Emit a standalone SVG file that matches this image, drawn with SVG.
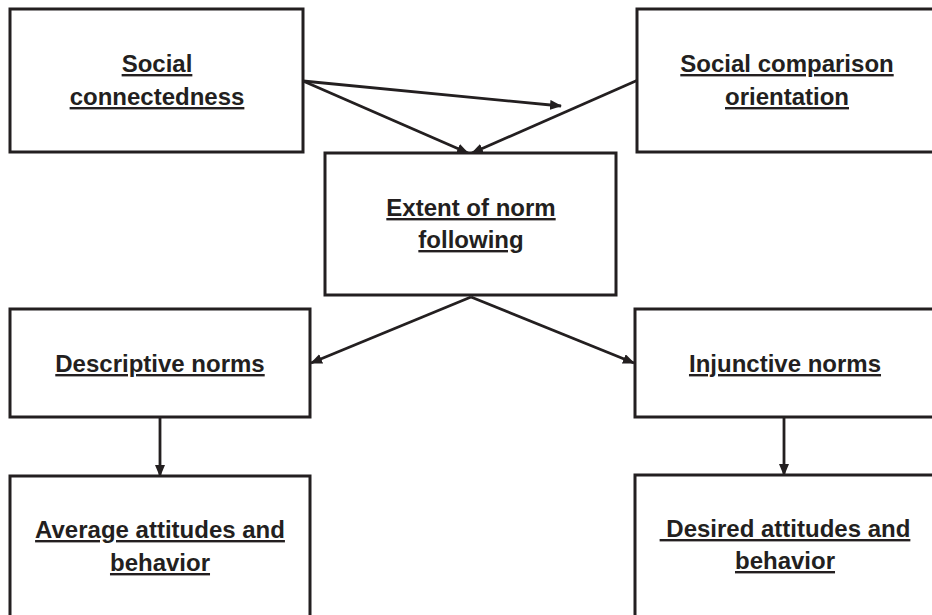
<svg xmlns="http://www.w3.org/2000/svg" width="932" height="615" viewBox="0 0 932 615">
<style>
.box{fill:#fff;stroke:#231f20;stroke-width:3}
.lbl{font-family:"Liberation Sans",Arial,sans-serif;font-weight:bold;font-size:24px;fill:#231f20;text-anchor:middle;text-decoration:underline;white-space:pre}
.edge{stroke:#231f20;stroke-width:2.8;fill:none;marker-end:url(#ah)}
</style>
<defs>
<marker id="ah" viewBox="0 0 12 10" refX="11" refY="5" markerWidth="12" markerHeight="10" markerUnits="userSpaceOnUse" orient="auto">
<path d="M0,0 L12,5 L0,10 z" fill="#231f20"/>
</marker>
</defs>
<rect width="932" height="615" fill="#fff"/>
<g id="connectors">
<line class="edge" x1="303" y1="81" x2="561" y2="106"/>
<line class="edge" x1="303" y1="81" x2="468" y2="153"/>
<line class="edge" x1="638" y1="80" x2="472" y2="153"/>
<line class="edge" x1="471" y1="297" x2="311" y2="363"/>
<line class="edge" x1="471" y1="297" x2="634" y2="363"/>
<line class="edge" x1="160" y1="418" x2="160" y2="476"/>
<line class="edge" x1="784" y1="418" x2="784" y2="475"/>
</g>
<g id="social-connectedness">
<rect class="box" x="10" y="9" width="293" height="143"/>
<text class="lbl" x="157" y="72">Social</text>
<text class="lbl" x="157" y="105">connectedness</text>
</g>
<g id="social-comparison">
<rect class="box" x="637" y="9" width="305" height="143"/>
<text class="lbl" x="787" y="72">Social comparison</text>
<text class="lbl" x="787" y="105">orientation</text>
</g>
<g id="extent-norm">
<rect class="box" x="325" y="153" width="291" height="142"/>
<text class="lbl" x="471" y="216">Extent of norm</text>
<text class="lbl" x="471" y="248">following</text>
</g>
<g id="descriptive-norms">
<rect class="box" x="10" y="309" width="300" height="108"/>
<text class="lbl" x="160" y="372">Descriptive norms</text>
</g>
<g id="injunctive-norms">
<rect class="box" x="635" y="309" width="310" height="108"/>
<text class="lbl" x="785" y="372">Injunctive norms</text>
</g>
<g id="average-attitudes">
<rect class="box" x="10" y="476" width="300" height="160"/>
<text class="lbl" x="160" y="538">Average attitudes and</text>
<text class="lbl" x="160" y="571">behavior</text>
</g>
<g id="desired-attitudes">
<rect class="box" x="635" y="475" width="310" height="160"/>
<text class="lbl" x="785" y="537"> Desired attitudes and</text>
<text class="lbl" x="785" y="569">behavior</text>
</g>
</svg>
